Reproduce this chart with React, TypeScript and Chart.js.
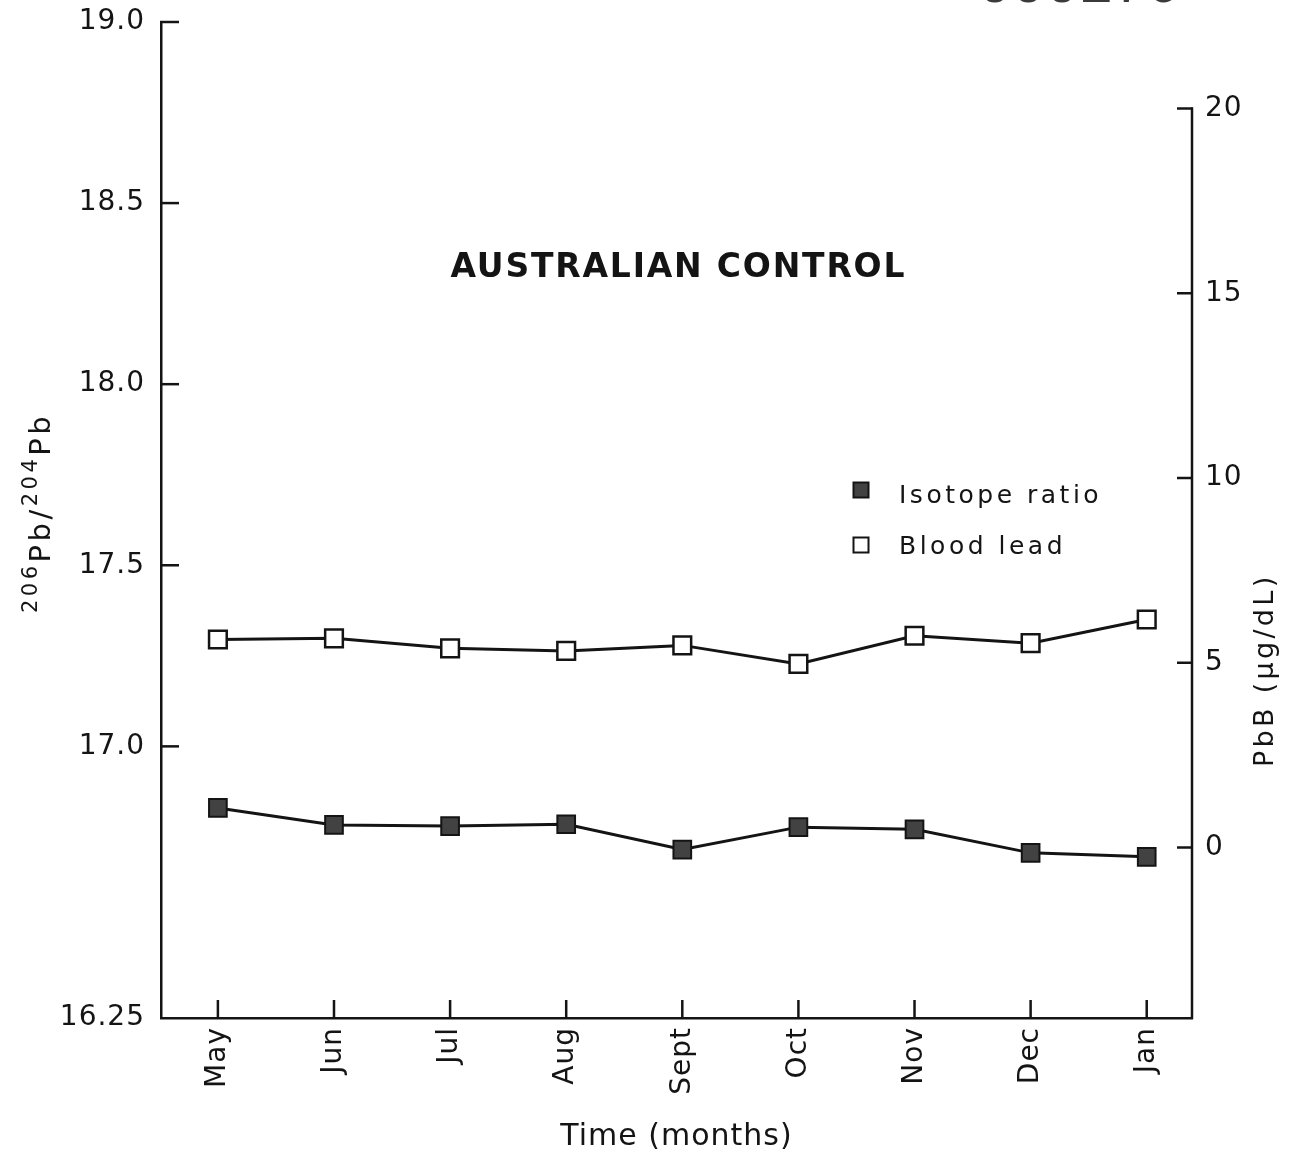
import React, { useEffect, useRef } from 'react';
import { Chart, registerables } from 'chart.js';

Chart.register(...registerables);

// ---- data ----
const months = ['May', 'Jun', 'Jul', 'Aug', 'Sept', 'Oct', 'Nov', 'Dec', 'Jan'];
const isotopeRatio = [16.83, 16.783, 16.78, 16.785, 16.715, 16.777, 16.771, 16.706, 16.695];
const bloodLead = [5.63, 5.66, 5.39, 5.32, 5.47, 4.97, 5.73, 5.53, 6.17];
const ratioTicks = [16.25, 17.0, 17.5, 18.0, 18.5, 19.0];
const pbbTicks = [0, 5, 10, 15, 20];
const chartTitle = 'AUSTRALIAN CONTROL';
const xTitle = 'Time (months)';
const leftTitleParts = [
  { t: '206', sup: true },
  { t: 'Pb/', sup: false },
  { t: '204', sup: true },
  { t: 'Pb', sup: false },
];
const rightTitle = 'PbB (μg/dL)';
const legendLabels = ['Isotope ratio', 'Blood lead'];
const stampText = '000176';

const FONT = "'DejaVu Sans', 'Liberation Sans', Arial, sans-serif";
const INK = '#141414';
const FILL_DARK = '#424242';

const zeroPad = (scale: any) => {
  scale.paddingTop = 0;
  scale.paddingBottom = 0;
  scale.paddingLeft = 0;
  scale.paddingRight = 0;
};

const decorPlugin = {
  id: 'decor',
  beforeDraw(chart: any) {
    (chart.ctx as any).letterSpacing = '1px';
  },
  afterDraw(chart: any) {
    const ctx = chart.ctx as CanvasRenderingContext2D & { letterSpacing: string };
    const { left, right, bottom } = chart.chartArea;
    const xs = chart.scales.x;
    const yl = chart.scales.y;
    const yr = chart.scales.y2;
    const line = (x1: number, y1: number, x2: number, y2: number) => {
      ctx.beginPath();
      ctx.moveTo(x1, y1);
      ctx.lineTo(x2, y2);
      ctx.stroke();
    };
    ctx.save();
    ctx.strokeStyle = INK;
    ctx.lineWidth = 2.5;
    ctx.lineCap = 'butt';
    // left axis inward ticks
    ratioTicks.forEach((v) => {
      if (v === yl.min) return;
      const y = yl.getPixelForValue(v);
      line(left - 1, y, left + 18, y);
    });
    // right axis (starts at top tick)
    const yTop = yr.getPixelForValue(pbbTicks[pbbTicks.length - 1]);
    line(right, yTop - 1, right, bottom + 1);
    pbbTicks.forEach((v) => {
      const y = yr.getPixelForValue(v);
      line(right - 15, y, right + 1, y);
    });
    // x axis inward ticks
    months.forEach((_, i) => {
      const x = xs.getPixelForValue(i);
      line(x, bottom, x, bottom - 18);
    });

    ctx.fillStyle = INK;
    ctx.textBaseline = 'alphabetic';

    // chart title
    ctx.font = `bold 33px ${FONT}`;
    ctx.letterSpacing = '1.8px';
    ctx.textAlign = 'left';
    const tw = ctx.measureText(chartTitle).width - 1.8;
    const cx = (left + right) / 2 + 1;
    ctx.fillText(chartTitle, cx - tw / 2, 277);

    // legend
    const lx = 861;
    const ly = [490, 545];
    const sz = 15;
    ctx.lineWidth = 2;
    ctx.fillStyle = FILL_DARK;
    ctx.fillRect(lx - sz / 2, ly[0] - sz / 2, sz, sz);
    ctx.strokeRect(lx - sz / 2, ly[0] - sz / 2, sz, sz);
    ctx.fillStyle = '#fff';
    ctx.fillRect(lx - sz / 2, ly[1] - sz / 2, sz, sz);
    ctx.strokeRect(lx - sz / 2, ly[1] - sz / 2, sz, sz);
    ctx.fillStyle = INK;
    ctx.font = `25px ${FONT}`;
    ctx.letterSpacing = '3.5px';
    ctx.fillText(legendLabels[0], 899, 503);
    ctx.fillText(legendLabels[1], 899, 554);

    // left axis title with superscripts (reads bottom to top)
    ctx.save();
    ctx.translate(50, 613);
    ctx.rotate(-Math.PI / 2);
    ctx.letterSpacing = '3.5px';
    let pos = 0;
    leftTitleParts.forEach((p) => {
      ctx.font = p.sup ? `21px ${FONT}` : `29px ${FONT}`;
      ctx.fillText(p.t, pos, p.sup ? -13 : 0);
      pos += ctx.measureText(p.t).width;
    });
    ctx.restore();

    // right axis title (reads bottom to top)
    ctx.save();
    ctx.translate(1273, 767);
    ctx.rotate(-Math.PI / 2);
    ctx.font = `27px ${FONT}`;
    ctx.letterSpacing = '3.3px';
    ctx.fillText(rightTitle, 0, 0);
    ctx.restore();

    // document stamp, mostly cut off at the top edge
    ctx.font = `56px 'Liberation Mono', 'Courier New', monospace`;
    ctx.letterSpacing = '0px';
    ctx.fillStyle = '#3a3a3a';
    ctx.fillText(stampText, 978, 2);

    ctx.restore();
  },
};

export default function App() {
  const canvasRef = useRef<HTMLCanvasElement | null>(null);

  useEffect(() => {
    const canvas = canvasRef.current;
    if (!canvas) return;
    Chart.defaults.font.family = FONT;
    Chart.defaults.color = INK;

    const chart = new Chart(canvas, {
      type: 'line',
      data: {
        datasets: [
          {
            label: legendLabels[0],
            data: isotopeRatio.map((v, i) => ({ x: i, y: v })),
            yAxisID: 'y',
            borderColor: INK,
            borderWidth: 3,
            tension: 0,
            pointStyle: 'rect',
            pointRadius: 12.5,
            pointBackgroundColor: FILL_DARK,
            pointBorderColor: INK,
            pointBorderWidth: 2,
          },
          {
            label: legendLabels[1],
            data: bloodLead.map((v, i) => ({ x: i, y: v })),
            yAxisID: 'y2',
            borderColor: INK,
            borderWidth: 3,
            tension: 0,
            pointStyle: 'rect',
            pointRadius: 12.5,
            pointBackgroundColor: '#ffffff',
            pointBorderColor: INK,
            pointBorderWidth: 2.5,
          },
        ],
      },
      options: {
        responsive: false,
        animation: false,
        devicePixelRatio: 1,
        layout: { padding: { top: 22, left: 0, right: 0, bottom: 0 } },
        plugins: {
          legend: { display: false },
          tooltip: { enabled: false },
          title: { display: false },
        },
        scales: {
          x: {
            type: 'linear',
            position: 'bottom',
            min: -0.49,
            max: 8.39,
            afterBuildTicks: (scale: any) => {
              scale.ticks = months.map((_, i) => ({ value: i }));
            },
            afterFit: (scale: any) => {
              scale.height = 145;
              zeroPad(scale);
            },
            grid: { display: false, drawTicks: false },
            border: { display: true, color: INK, width: 2.5 },
            ticks: {
              autoSkip: false,
              minRotation: 90,
              maxRotation: 90,
              padding: 9,
              color: INK,
              font: { size: 28 },
              callback: (v: any) => months[Math.round(Number(v))] ?? '',
            },
            title: {
              display: true,
              text: xTitle,
              color: INK,
              font: { size: 30 },
              padding: { top: 0, bottom: 8 },
            },
          },
          y: {
            type: 'linear',
            position: 'left',
            min: 16.25,
            max: 19.0,
            afterBuildTicks: (scale: any) => {
              scale.ticks = ratioTicks.map((v) => ({ value: v }));
            },
            afterFit: (scale: any) => {
              scale.width = 161;
              zeroPad(scale);
            },
            grid: { display: false, drawTicks: false },
            border: { display: true, color: INK, width: 2.5 },
            ticks: {
              padding: 16,
              color: INK,
              font: { size: 28 },
              callback: (v: any) => (Number(v) === 16.25 ? '16.25' : Number(v).toFixed(1)),
            },
          },
          y2: {
            type: 'linear',
            position: 'right',
            min: -4.614,
            max: 22.341,
            afterBuildTicks: (scale: any) => {
              scale.ticks = pbbTicks.map((v) => ({ value: v }));
            },
            afterFit: (scale: any) => {
              scale.width = 116;
              zeroPad(scale);
            },
            grid: { display: false, drawTicks: false },
            border: { display: false },
            ticks: {
              padding: 13,
              color: INK,
              font: { size: 28 },
              callback: (v: any) => String(v),
            },
          },
        },
      },
      plugins: [decorPlugin],
    } as any);

    return () => {
      chart.destroy();
    };
  }, []);

  return (
    <div
      style={{
        position: 'absolute',
        left: 0,
        top: 0,
        width: 1308,
        height: 1163,
        background: '#ffffff',
        overflow: 'hidden',
      }}
    >
      <canvas ref={canvasRef} width={1308} height={1163} style={{ display: 'block' }} />
    </div>
  );
}
